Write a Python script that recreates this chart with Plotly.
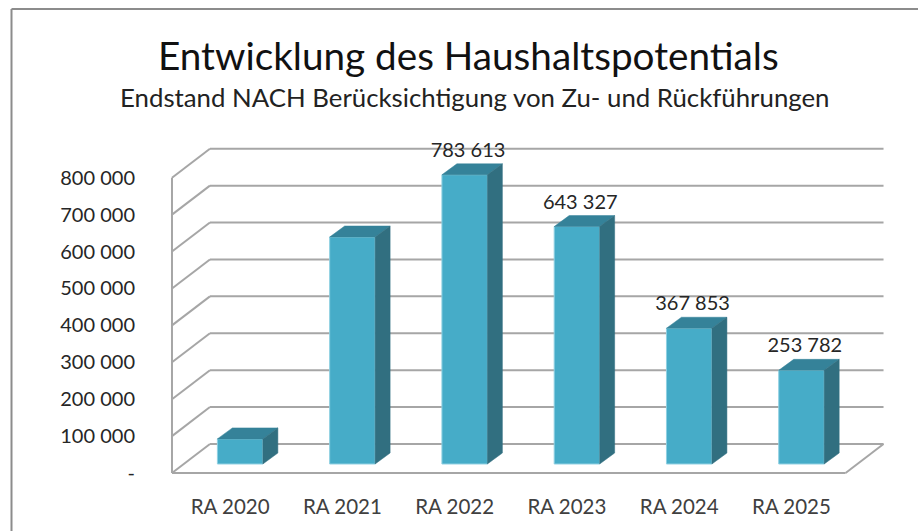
import plotly.graph_objects as go

categories = ["RA 2020", "RA 2021", "RA 2022", "RA 2023", "RA 2024", "RA 2025"]
values = [68000, 615000, 783613, 643327, 367853, 253782]
data_labels = [None, None, "783 613", "643 327", "367 853", "253 782"]
y_ticks = [0, 100000, 200000, 300000, 400000, 500000, 600000, 700000, 800000]
y_tick_labels = ["-", "100 000", "200 000", "300 000", "400 000", "500 000", "600 000", "700 000", "800 000"]

FONT = "Lato, Carlito, Calibri, sans-serif"
GRID = "#A6A6A6"
FRONT, TOP, SIDE = "#46ACC8", "#358299", "#316F80"

# pseudo-3D projection in axis units
WALL_DX, WALL_DY = 0.338, 78600
BAR_X, BAR_BASE = 0.107, 24400
BAR_W = 0.405
BAR_DX, BAR_DY = 0.1335, 29800
X0, X1 = -0.5, 5.5
X_MIN, X_MAX = -0.589, 5.86
Y_MIN, Y_MAX = -27100, 905000

# plot-area margins in pixels
ML, MR, MT, MB = 162, 32, 139, 48
PW, PH = 918 - ML - MR, 531 - MT - MB


def px(x):
    return (x - ML) / PW


def py(y):
    return (531 - MB - y) / PH


fig = go.Figure()
xs = [i + BAR_X for i in range(len(values))]
fig.add_trace(go.Bar(x=xs, y=values, base=[BAR_BASE] * len(values), width=BAR_W,
                     marker=dict(color=FRONT, line=dict(color="#8FD0E2", width=1)),
                     hoverinfo="skip", showlegend=False))

for x, v in zip(xs, values):
    l, r = x - BAR_W / 2, x + BAR_W / 2
    t = BAR_BASE + v
    fig.add_trace(go.Scatter(x=[l, r, r + BAR_DX, l + BAR_DX, l], y=[t, t, t + BAR_DY, t + BAR_DY, t],
                             mode="lines", fill="toself", fillcolor=TOP, line=dict(color=TOP, width=0.5),
                             hoverinfo="skip", showlegend=False))
    fig.add_trace(go.Scatter(x=[r, r + BAR_DX, r + BAR_DX, r, r],
                             y=[BAR_BASE, BAR_BASE + BAR_DY, t + BAR_DY, t, BAR_BASE],
                             mode="lines", fill="toself", fillcolor=SIDE, line=dict(color=SIDE, width=0.5),
                             hoverinfo="skip", showlegend=False))

lx, ly, lt = [], [], []
for x, v, s in zip(xs, values, data_labels):
    if s:
        lx.append(x + 0.03)
        ly.append(BAR_BASE + v + 62000)
        lt.append(s)
fig.add_trace(go.Scatter(x=lx, y=ly, text=lt, mode="text", textposition="middle center",
                         textfont=dict(family=FONT, size=20, color="#262626"),
                         cliponaxis=False, hoverinfo="skip", showlegend=False))

line = dict(color=GRID, width=2)
shapes = []
for v in y_ticks:
    shapes.append(dict(type="line", xref="x", yref="y", x0=X0, y0=v, x1=X0 + WALL_DX, y1=v + WALL_DY, line=line, layer="below"))
    shapes.append(dict(type="line", xref="x", yref="y", x0=X0 + WALL_DX, y0=v + WALL_DY, x1=X1 + WALL_DX, y1=v + WALL_DY, line=line, layer="below"))
shapes.append(dict(type="line", xref="x", yref="y", x0=X0, y0=y_ticks[0], x1=X0, y1=y_ticks[-1], line=line, layer="below"))
shapes.append(dict(type="line", xref="x", yref="y", x0=X0, y0=y_ticks[0], x1=X1, y1=y_ticks[0], line=line, layer="below"))
shapes.append(dict(type="line", xref="x", yref="y", x0=X1, y0=y_ticks[0], x1=X1 + WALL_DX, y1=y_ticks[0] + WALL_DY, line=line, layer="below"))
# outer frame of the chart object
frame = dict(color="#8C8C8C", width=2)
shapes.append(dict(type="line", xref="paper", yref="paper", x0=px(11.5), y0=py(9), x1=px(918), y1=py(9), line=frame))
shapes.append(dict(type="line", xref="paper", yref="paper", x0=px(11.5), y0=py(9), x1=px(11.5), y1=py(531), line=frame))

fig.update_layout(
    width=918, height=531, margin=dict(l=ML, r=MR, t=MT, b=MB, autoexpand=False),
    paper_bgcolor="white", plot_bgcolor="white", showlegend=False, shapes=shapes,
    xaxis=dict(range=[X_MIN, X_MAX], tickmode="array", tickvals=[i + 0.018 for i in range(len(categories))],
               ticktext=categories, ticks="outside", ticklen=5, tickcolor="rgba(0,0,0,0)",
               showgrid=False, zeroline=False, showline=False,
               tickfont=dict(family=FONT, size=20.5, color="#404040")),
    yaxis=dict(range=[Y_MIN, Y_MAX], tickmode="array", tickvals=y_ticks, ticktext=y_tick_labels,
               ticks="outside", ticklen=22, tickcolor="rgba(0,0,0,0)", showgrid=False, zeroline=False, showline=False,
               tickfont=dict(family=FONT, size=20, color="#262626")),
    annotations=[
        dict(text="Entwicklung des Haushaltspotentials", xref="paper", yref="paper", x=px(468), y=py(55),
             xanchor="center", yanchor="middle", showarrow=False, font=dict(family=FONT, size=38.7, color="#111111")),
        dict(text="Endstand NACH Berücksichtigung von Zu- und Rückführungen", xref="paper", yref="paper",
             x=px(475), y=py(97), xanchor="center", yanchor="middle", showarrow=False,
             font=dict(family=FONT, size=25.8, color="#222222")),
    ],
)
fig.write_html("out.html", config=dict(displayModeBar=False),
               post_script="document.body.style.margin='0';document.body.style.overflow='hidden';")
